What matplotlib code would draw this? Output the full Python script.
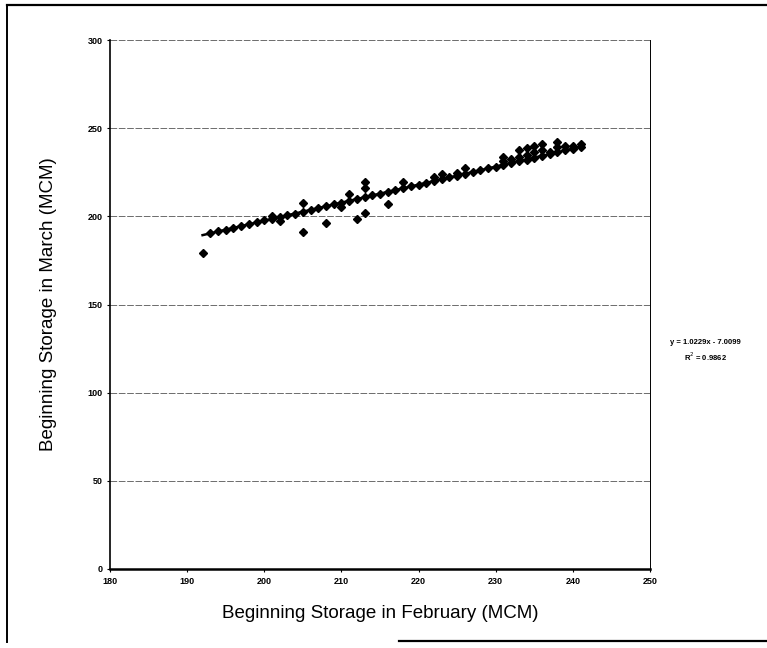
import matplotlib.pyplot as plt
from matplotlib.lines import Line2D

# February vs March beginning storage (MCM)
feb = [192, 193, 194, 195, 196, 197, 198, 199, 200, 201, 201, 202, 202, 203, 204,
       205, 205, 205, 206, 207, 208, 208, 209, 210, 210, 211, 211, 212, 212, 213,
       213, 213, 213, 214, 215, 216, 216, 217, 218, 218, 219, 220, 221, 222, 222,
       223, 223, 224, 225, 225, 226, 226, 227, 228, 229, 230, 231, 231, 231, 232,
       232, 233, 233, 233, 234, 234, 234, 235, 235, 235, 236, 236, 236, 237, 237,
       238, 238, 238, 239, 239, 240, 240, 241, 241]
mar = [179.2, 190.5, 191.6, 192.5, 193.6, 194.4, 195.6, 196.6, 197.8, 198.7, 200.0,
       199.4, 197.5, 200.8, 201.6, 202.7, 207.4, 191.3, 203.8, 204.9, 205.7, 196.4,
       206.8, 207.9, 205.5, 208.9, 212.7, 209.8, 198.6, 210.9, 215.9, 219.7, 201.7,
       212.0, 213.0, 213.9, 207.0, 215.0, 216.0, 219.6, 217.1, 218.0, 219.0, 220.0,
       222.3, 221.1, 224.2, 222.1, 223.1, 224.8, 224.2, 227.6, 225.3, 226.2, 227.3,
       228.3, 229.3, 231.5, 233.6, 230.3, 232.8, 231.4, 234.0, 237.5, 232.3, 235.0,
       238.6, 233.4, 236.8, 240.2, 234.5, 237.5, 241.0, 235.5, 236.8, 236.4, 239.6,
       242.2, 237.5, 240.0, 238.5, 240.2, 239.5, 241.0]

slope = 1.0229
intercept = -7.0099
r2 = 0.9862

plt.rcParams['font.family'] = ['Liberation Sans', 'DejaVu Sans']

fig = plt.figure(figsize=(7.67, 6.48), dpi=100)
ax = fig.add_axes([0.1434, 0.122, 0.7041, 0.816])

# linear trendline
x0, x1 = min(feb), max(feb)
ax.plot([x0, x1], [slope * x0 + intercept, slope * x1 + intercept],
        color='black', lw=1.8, zorder=3)
ax.plot(feb, mar, linestyle='', marker='D', markersize=3.6,
        color='black', zorder=4)

ax.set_xlim(180, 250)
ax.set_ylim(0, 300)
ax.set_xticks(range(180, 251, 10))
ax.set_yticks(range(0, 301, 50))
ax.tick_params(labelsize=6.5, length=2, width=0.8, direction='out')
for lab in ax.get_xticklabels() + ax.get_yticklabels():
    lab.set_fontweight('bold')

ax.grid(axis='y', color='#555555', lw=0.6, linestyle=(0, (8, 2)))
ax.set_axisbelow(True)
ax.spines['top'].set_visible(False)
ax.spines['right'].set_linestyle((0, (3, 1)))
ax.spines['right'].set_linewidth(0.7)
ax.spines['left'].set_linewidth(1.2)
ax.spines['bottom'].set_linewidth(1.8)

ax.set_xlabel('Beginning Storage in February (MCM)', fontsize=13.5, labelpad=14)
ax.set_ylabel('Beginning Storage in March (MCM)', fontsize=13.5, labelpad=22)

fig.text(0.92, 0.471, f'y = {slope}x - {abs(intercept):.4f}', fontsize=5.5,
         fontweight='bold', ha='center', va='center')
fig.text(0.92, 0.449, f'R$^2$ = {r2}', fontsize=5.5,
         fontweight='bold', ha='center', va='center')

# outer frame
fig.add_artist(Line2D([0.009, 0.009], [0.01, 0.993], color='black', lw=1.4,
                      transform=fig.transFigure))
fig.add_artist(Line2D([0.009, 1.0], [0.993, 0.993], color='black', lw=1.6,
                      transform=fig.transFigure))
fig.add_artist(Line2D([0.52, 1.0], [0.011, 0.011], color='black', lw=1.6,
                      transform=fig.transFigure))

fig.savefig('out.png', dpi=100)
